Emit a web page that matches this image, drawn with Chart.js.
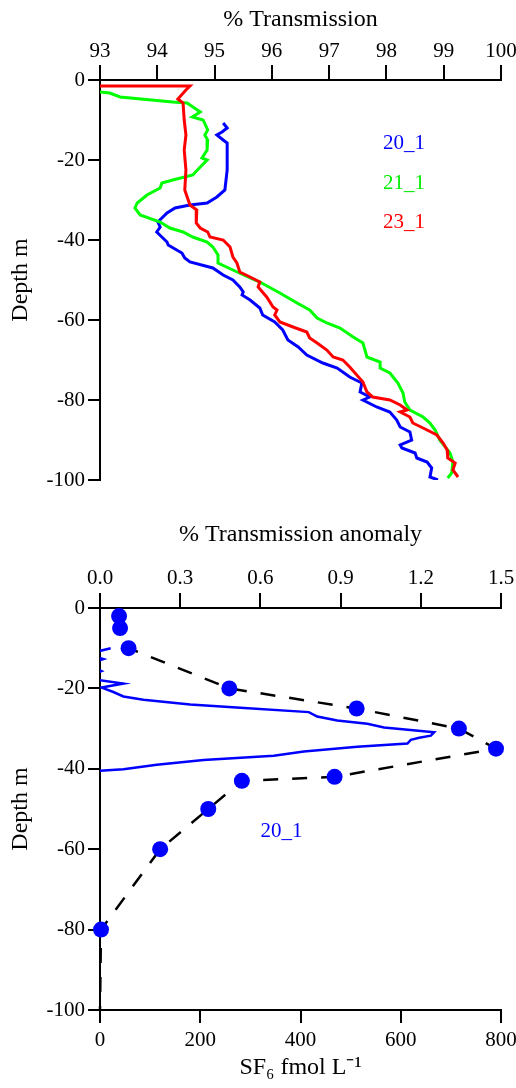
<!DOCTYPE html>
<html><head><meta charset="utf-8">
<script src="https://cdn.jsdelivr.net/npm/chart.js@4/dist/chart.umd.min.js"></script>
<style>
html,body{margin:0;padding:0;background:#fff;}
#wrap{position:relative;width:516px;height:1088px;overflow:hidden;background:#fff;}
canvas{position:absolute;left:0;}
</style></head><body>
<div id="wrap">
<canvas id="c1" width="516" height="500" style="top:0px"></canvas>
<canvas id="c2" width="516" height="580" style="top:508px"></canvas>
</div>
<script>
// ---------- data ----------
const seriesNames = ['20_1', '21_1', '23_1'];
const transTicks = [93, 94, 95, 96, 97, 98, 99, 100];
const anomTicks = [0, 0.3, 0.6, 0.9, 1.2, 1.5];
const sf6Ticks = [0, 200, 400, 600, 800];
const depthTicks = [0, -20, -40, -60, -80, -100];

const trans20 = [95.15,95.22,95.13,95.04,95.15,95.22,95.22,95.18,95.04,94.87,94.57,94.31,94.17,94.01,94.05,93.99,94.08,94.17,94.19,94.43,94.48,94.57,94.97,95.15,95.32,95.44,95.50,95.48,95.62,95.79,95.84,96.05,96.19,96.28,96.46,96.61,96.89,97.14,97.36,97.57,97.54,97.71,97.59,97.83,98.06,98.18,98.24,98.41,98.44,98.24,98.27,98.50,98.53,98.71,98.79,98.76,98.90];
const depth20 = [-10.75,-12,-13,-13.75,-15,-15.75,-22.5,-27.5,-29.25,-30.75,-31.25,-32,-33.25,-35.5,-36.75,-38,-39.25,-40.5,-41.25,-43.25,-44.5,-45.5,-47,-48.75,-50,-51.75,-53,-53.75,-55,-57,-58.75,-60.5,-62.5,-65,-66.75,-68.75,-70.75,-72,-74.25,-75.75,-78,-79.25,-80,-81.75,-83,-85,-86.75,-88,-90,-91.25,-92,-93.25,-94.5,-95.5,-97,-99.25,-100];

const trans21 = [93.00,93.17,93.35,94.27,94.52,94.75,94.61,94.80,94.88,94.83,94.88,94.87,94.78,94.87,94.75,94.62,94.27,94.08,94.05,93.82,93.65,93.61,93.70,94.05,94.22,94.45,94.62,94.87,94.97,95.06,95.06,95.32,95.62,95.79,96.14,96.44,96.66,96.79,96.96,97.19,97.42,97.59,97.66,97.89,97.89,98.06,98.20,98.29,98.32,98.41,98.64,98.76,98.85,98.93,99.11,99.16,99.14,99.07];
const depth21 = [-3,-3.25,-4.25,-5.5,-5.75,-8,-9.25,-10,-12.5,-13.75,-15,-17.5,-19.5,-20,-21.75,-23.75,-25,-25.75,-27,-28.75,-30.75,-32,-33.75,-35.5,-37,-38,-39.25,-40.5,-41.75,-43.75,-45.75,-47.5,-49.5,-50.5,-53.25,-55.75,-57.5,-59.5,-60.75,-62,-64.25,-65.75,-69.25,-70.5,-72,-73.25,-75.75,-78.25,-80.5,-82.5,-84.25,-85.75,-87.5,-90,-93.25,-95.5,-98.25,-99.5];

const trans23 = [93.00,94.57,94.50,94.36,94.45,94.47,94.50,94.47,94.50,94.48,94.54,94.57,94.69,94.68,94.75,94.88,94.92,95.15,95.27,95.32,95.39,95.44,95.62,95.79,95.76,95.91,96.02,96.09,96.05,96.14,96.37,96.61,96.66,96.79,96.96,97.07,97.24,97.36,97.59,97.66,97.76,98.06,98.24,98.36,98.24,98.41,98.46,98.64,98.88,98.99,99.06,99.07,99.20,99.16,99.25];
const depth23 = [-1.5,-1.5,-2.5,-4.75,-5.75,-10,-13.75,-17.5,-22.5,-27.5,-30,-31.25,-32.5,-35.75,-37,-38,-39.25,-40,-41.75,-44.25,-45.75,-48,-49.25,-50.5,-51.75,-54.25,-56.75,-57.5,-58.75,-60.5,-61.75,-63,-64.5,-65.75,-67.5,-69.25,-70,-71.75,-75.5,-78,-79.25,-80,-81.25,-82.5,-83,-84.25,-85.75,-87,-88.75,-90.75,-92.5,-94.5,-95.75,-97.5,-99.25];

const sf6Conc  = [38, 40, 57, 258, 512, 716, 790, 468, 283, 216, 120, 2];
const sf6Depth = [-2, -5, -10, -20, -25, -30, -35, -42, -43, -50, -60, -80];
const sf6TailConc = [0];
const sf6TailDepth = [-100];

const anomVal   = [0.04,-0.05,0.012,-0.05,0.005,-0.05,0.0,0.0875,0.006,0.05,0.0875,0.1625,0.3375,0.525,0.781,0.8125,0.8875,1.0,1.0625,1.25,1.2375,1.194,1.1625,1.15,0.9625,0.7625,0.65,0.3875,0.2125,0.0875,0.0,-0.05];
const anomDepth = [-10,-11.5,-12.7,-14,-15.7,-17,-18,-18.8,-19.8,-20.9,-22,-22.8,-24,-24.8,-25.9,-27,-28,-28.8,-29.7,-30.9,-31.75,-32.3,-32.8,-33.7,-34.5,-35.7,-36.75,-37.8,-39,-40.1,-40.5,-41.5];

// ---------- helpers ----------
const FONT = "'Liberation Serif', 'Times New Roman', serif";
Chart.defaults.font.family = FONT;
Chart.defaults.color = '#000';
const TICK = 21, TITLE = 24;
const pts = (xs, ys) => xs.map((v, i) => ({x: v, y: ys[i]}));
const setTicks = arr => s => { s.ticks = arr.map(v => ({value: v})); };
function axisStyle(len) {
  return {
    grid: {display: true, drawOnChartArea: false, drawTicks: true, tickLength: len, color: '#000', lineWidth: 2},
    border: {display: true, color: '#000', width: 2}
  };
}
const labelPlugin = items => ({
  id: 'seriesLabels',
  afterDatasetsDraw(chart) {
    const ctx = chart.ctx;
    ctx.save();
    ctx.font = '21px ' + FONT;
    ctx.textBaseline = 'middle';
    ctx.textAlign = 'left';
    items.forEach(it => {
      ctx.fillStyle = it.color;
      ctx.fillText(it.text, chart.scales[it.xid].getPixelForValue(it.x), chart.scales.y.getPixelForValue(it.y));
    });
    ctx.restore();
  }
});
const yAxis = () => Object.assign({
  type: 'linear', position: 'left', min: -100, max: 0,
  afterBuildTicks: setTicks(depthTicks),
  ticks: {font: {size: TICK}, padding: 3, color: '#000', callback: v => String(v)},
  title: {display: true, text: 'Depth m', font: {size: TITLE}, color: '#000', padding: {top: 6, bottom: 0}},
  afterFit: s => { s.width = 100; s.paddingTop = 0; s.paddingBottom = 0; }
}, axisStyle(12));

// ---------- chart 1 ----------
new Chart(document.getElementById('c1'), {
  type: 'line',
  data: {
    datasets: [
      {label: seriesNames[2], data: pts(trans23, depth23), borderColor: '#ff0000', borderWidth: 3, pointRadius: 0, order: 0},
      {label: seriesNames[1], data: pts(trans21, depth21), borderColor: '#00ff00', borderWidth: 3, pointRadius: 0, order: 1},
      {label: seriesNames[0], data: pts(trans20, depth20), borderColor: '#0000ff', borderWidth: 3, pointRadius: 0, order: 2}
    ]
  },
  options: {
    responsive: false, animation: false, devicePixelRatio: 1,
    layout: {padding: {left: 0, right: 15, top: 0, bottom: 20}},
    plugins: {legend: {display: false}, tooltip: {enabled: false}},
    scales: {
      x: Object.assign({
        type: 'linear', position: 'top', min: 93, max: 100,
        afterBuildTicks: setTicks(transTicks),
        ticks: {font: {size: TICK}, padding: 1, maxRotation: 0, autoSkip: false, color: '#000'},
        title: {display: true, text: '% Transmission', font: {size: TITLE}, color: '#000', padding: {top: 5, bottom: 0}},
        afterFit: s => { s.height = 80; s.paddingLeft = 0; s.paddingRight = 0; }
      }, axisStyle(15)),
      y: yAxis()
    }
  },
  plugins: [labelPlugin([
    {text: seriesNames[0], color: '#0000ff', xid: 'x', x: 97.94, y: -15.75},
    {text: seriesNames[1], color: '#00ee00', xid: 'x', x: 97.94, y: -25.75},
    {text: seriesNames[2], color: '#ff0000', xid: 'x', x: 97.94, y: -35.5}
  ])]
});

// ---------- chart 2 ----------
new Chart(document.getElementById('c2'), {
  type: 'line',
  data: {
    datasets: [
      {label: 'SF6', data: pts(sf6Conc, sf6Depth), xAxisID: 'x', showLine: false, pointRadius: 8, pointBackgroundColor: '#0000ff', pointBorderWidth: 0, pointBorderColor: '#0000ff', clip: false, order: 0},
      {label: 'SF6 line', data: pts(sf6Conc.concat(sf6TailConc), sf6Depth.concat(sf6TailDepth)), xAxisID: 'x', borderColor: '#000', borderWidth: 2.5, borderDash: [15, 14], pointRadius: 0, clip: false, order: 1},
      {label: seriesNames[0], data: pts(anomVal, anomDepth), xAxisID: 'x2', borderColor: '#0000ff', borderWidth: 2.5, pointRadius: 0, clip: 0, order: 2}
    ]
  },
  options: {
    responsive: false, animation: false, devicePixelRatio: 1,
    layout: {padding: {left: 0, right: 15, top: 0, bottom: 0}},
    plugins: {legend: {display: false}, tooltip: {enabled: false}},
    scales: {
      x2: Object.assign({
        type: 'linear', position: 'top', min: 0, max: 1.5,
        afterBuildTicks: setTicks(anomTicks),
        ticks: {font: {size: TICK}, padding: 2, maxRotation: 0, autoSkip: false, color: '#000', callback: v => v.toFixed(1)},
        title: {display: true, text: '% Transmission anomaly', font: {size: TITLE}, color: '#000', padding: {top: 12, bottom: 0}},
        afterFit: s => { s.height = 100; s.paddingLeft = 0; s.paddingRight = 0; }
      }, axisStyle(15)),
      x: Object.assign({
        type: 'linear', position: 'bottom', min: 0, max: 800,
        afterBuildTicks: setTicks(sf6Ticks),
        ticks: {font: {size: TICK}, padding: 5, maxRotation: 0, autoSkip: false, color: '#000', callback: v => String(v)},
        title: {display: true, text: 'SF\u2086 fmol L\u207B\u00B9', font: {size: TITLE}, color: '#000', padding: {top: 0, bottom: 6}},
        afterFit: s => { s.height = 78; s.paddingLeft = 0; s.paddingRight = 0; }
      }, axisStyle(13)),
      y: yAxis()
    }
  },
  plugins: [labelPlugin([
    {text: seriesNames[0], color: '#0000ff', xid: 'x', x: 320, y: -55.5}
  ])]
});
</script>
</body></html>
